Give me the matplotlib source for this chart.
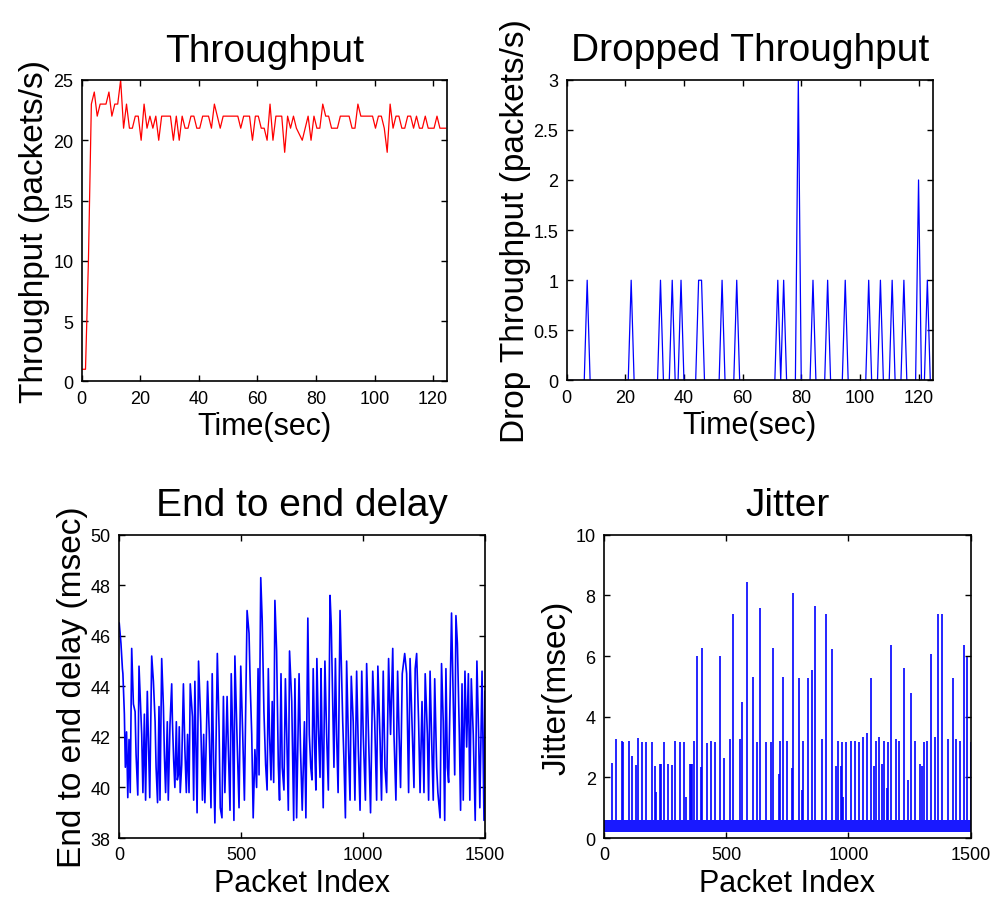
import numpy as np
import matplotlib
matplotlib.use('Agg')
import matplotlib.pyplot as plt
from matplotlib.ticker import FuncFormatter

# throughput, one sample per second (packets/s)
thr_pps = [1, 1, 10, 23, 24, 22, 23, 23, 23, 24,
           22, 23, 23, 25, 21, 23, 21, 21, 22, 22,
           20, 23, 21, 22, 21, 22, 20, 22, 22, 22,
           22, 20, 22, 20, 22, 21, 21, 22, 22, 21,
           21, 22, 22, 22, 21, 23, 22, 21, 22, 22,
           22, 22, 22, 22, 21, 22, 22, 22, 20, 22,
           22, 21, 21, 20, 23, 20, 22, 22, 22, 19,
           22, 21, 22, 21, 20.5, 20, 21, 22, 20, 22,
           21, 21, 23, 22, 22, 21, 21, 21, 22, 22,
           22, 22, 21, 21, 23, 22, 22, 22, 22, 22,
           21, 22, 22, 21, 19, 23, 21, 22, 22, 21,
           21, 22, 22, 21, 22, 21, 21, 22, 21, 21,
           21, 22, 21, 21, 21]
thr_start = 0.3

# dropped throughput: seconds where drops happened, rest is zero
drop_secs = [7, 22, 32, 36, 39, 45, 46, 53, 58, 72, 74, 79, 84, 89, 95,
             103, 107, 111, 115, 120, 123]
drop_pps = [1, 1, 1, 1, 1, 1, 1, 1, 1, 1, 1, 3, 1, 1, 1,
            1, 1, 1, 1, 2, 1]
n_secs = 125

# end to end delay, turning points (packet index, msec)
delay_idx = [1, 8, 14, 16, 22, 26, 31, 36, 41, 46, 52, 59, 66, 70, 77, 82, 87, 93, 98,
             104, 109, 116, 120, 126, 134, 141, 148, 152, 158, 164, 168, 175, 182, 186,
             191, 198, 202, 209, 216, 219, 224, 229, 235, 239, 243, 247, 251, 257, 264,
             270, 276, 281, 287, 292, 301, 306, 311, 320, 326, 335, 342, 347, 352, 363,
             370, 377, 382, 388, 393, 403, 410, 415, 422, 428, 434, 443, 448, 455, 460,
             466, 471, 475, 484, 492, 499, 507, 514, 525, 533, 538, 544, 550, 557, 564,
             570, 574, 581, 587, 594, 601, 607, 612, 617, 623, 628, 634, 639, 646, 653,
             658, 664, 669, 676, 682, 688, 694, 699, 708, 716, 721, 728, 738, 744, 751,
             760, 766, 774, 780, 786, 791, 796, 802, 807, 811, 817, 824, 828, 832, 837,
             844, 851, 858, 865, 870, 876, 881, 887, 892, 898, 906, 911, 917, 922, 928,
             933, 941, 947, 952, 960, 967, 974, 981, 988, 995, 1001, 1010, 1015, 1023,
             1031, 1040, 1048, 1056, 1061, 1070, 1076, 1083, 1090, 1097, 1105, 1113,
             1122, 1127, 1135, 1142, 1148, 1154, 1161, 1171, 1179, 1187, 1193, 1201,
             1209, 1214, 1220, 1228, 1234, 1242, 1250, 1255, 1264, 1269, 1275, 1283,
             1288, 1294, 1302, 1307, 1316, 1322, 1329, 1335, 1340, 1346, 1351, 1359,
             1363, 1370, 1376, 1381, 1387, 1395, 1400, 1406, 1411, 1418, 1425, 1432,
             1438, 1444, 1452, 1460, 1467, 1474, 1479, 1488, 1496, 1500]
delay_ms = [46.5, 45.7, 44.7, 44.5, 42.9, 40.8, 42.2, 39.6, 41.9, 39.8, 45.5, 43.3, 43.0,
            41.3, 39.7, 44.8, 43.6, 42.1, 39.8, 42.9, 39.5, 43.8, 42.1, 39.6, 45.2, 44.2,
            42.6, 40.8, 39.4, 43.2, 39.5, 45.1, 43.2, 41.3, 39.8, 42.6, 39.5, 42.5, 44.1,
            42.6, 41.1, 40.0, 42.6, 40.3, 40.5, 42.4, 39.8, 40.9, 44.1, 41.5, 39.8, 42.1,
            39.8, 44.1, 42.8, 39.5, 44.2, 39.0, 45.0, 42.6, 39.5, 42.1, 39.4, 44.2, 42.1,
            39.2, 44.5, 40.9, 38.6, 45.3, 42.4, 39.2, 38.8, 43.6, 39.8, 43.6, 41.6, 39.1,
            44.5, 42.1, 38.7, 45.2, 41.9, 39.2, 44.8, 42.1, 39.5, 47.0, 46.1, 44.0, 42.1,
            38.8, 41.5, 40.0, 44.7, 40.5, 48.3, 46.6, 43.0, 40.9, 39.9, 44.7, 42.1, 40.3,
            43.4, 40.2, 47.4, 45.4, 40.9, 39.5, 44.5, 40.8, 39.9, 44.3, 41.9, 39.1, 45.4,
            43.4, 38.7, 44.3, 38.8, 44.5, 41.5, 39.1, 42.6, 38.8, 46.7, 42.1, 40.8, 40.3,
            44.7, 41.6, 39.9, 45.1, 42.4, 40.4, 44.7, 42.1, 39.2, 45.0, 42.1, 39.9, 47.6,
            46.4, 43.4, 40.8, 45.1, 42.1, 39.8, 47.0, 45.0, 42.6, 41.1, 38.8, 45.0, 41.5,
            39.5, 44.4, 42.6, 39.5, 44.6, 41.5, 39.1, 44.6, 42.1, 39.5, 44.9, 41.9, 39.0,
            44.6, 42.6, 39.5, 44.8, 41.9, 39.5, 44.6, 40.8, 39.8, 45.1, 42.1, 45.5, 42.1,
            39.5, 44.6, 42.1, 40.0, 44.5, 45.3, 44.5, 39.8, 45.1, 42.5, 40.0, 44.7, 45.3,
            42.6, 39.8, 43.4, 39.8, 44.5, 42.1, 39.5, 44.6, 41.3, 39.5, 44.3, 40.8, 39.8,
            38.8, 44.9, 42.6, 38.7, 44.7, 40.8, 40.2, 44.7, 46.9, 43.4, 40.5, 46.8, 45.7,
            42.1, 39.1, 44.1, 39.5, 44.6, 41.6, 44.5, 39.5, 44.3, 42.1, 38.7, 45.0, 42.1,
            39.2, 44.6, 38.7, 43.8]

# jitter: spikes above the noise floor (packet index, msec)
jitter_idx = [33, 50, 74, 79, 104, 116, 132, 138, 157, 173, 198, 209, 214, 231, 235,
              244, 262, 280, 292, 310, 326, 337, 350, 356, 361, 369, 380, 397, 403,
              423, 438, 456, 474, 492, 515, 529, 556, 565, 585, 609, 626, 639, 663,
              682, 691, 716, 721, 732, 750, 768, 773, 798, 809, 814, 833, 850, 862,
              892, 910, 933, 949, 956, 969, 974, 979, 992, 1010, 1026, 1042, 1061,
              1078, 1094, 1105, 1111, 1127, 1138, 1145, 1156, 1162, 1175, 1193, 1209,
              1227, 1244, 1255, 1273, 1291, 1303, 1310, 1322, 1339, 1355, 1366, 1384,
              1408, 1426, 1440, 1456, 1474, 1486, 1500]
jitter_ms = [2.47, 3.26, 3.2, 3.15, 3.2, 2.72, 2.41, 3.31, 3.16, 3.16, 3.16, 2.39, 1.52,
             2.43, 2.45, 3.16, 2.43, 2.40, 3.2, 3.16, 3.16, 1.35, 2.43, 2.43, 2.45, 3.19,
             6.01, 2.34, 6.28, 3.12, 3.19, 3.16, 6.01, 2.65, 3.26, 7.37, 3.26, 4.5, 8.45,
             5.32, 3.16, 7.58, 3.16, 3.16, 6.28, 2.12, 3.19, 5.32, 3.19, 2.32, 8.08, 5.26,
             1.59, 3.19, 5.26, 5.54, 7.64, 3.26, 7.37, 6.24, 2.39, 3.19, 2.39, 3.16, 1.34,
             3.16, 3.19, 3.19, 3.16, 3.34, 3.45, 5.26, 2.39, 3.19, 3.34, 2.43, 3.19, 1.64,
             3.16, 6.35, 3.26, 3.19, 5.59, 1.9, 4.77, 3.19, 2.43, 2.39, 3.16, 3.19, 6.06,
             3.34, 7.37, 7.37, 3.26, 5.26, 3.26, 3.19, 6.35, 5.98, 3.16]
jitter_floor = 0.2
jitter_ceil = 0.6
n_packets = 1500

plt.rcParams['font.family'] = ['Liberation Sans', 'DejaVu Sans']

TITLE = 28
XLABEL = 22
YLABEL = 24
TICK = 13

fig = plt.figure(figsize=(9.95, 9.12), dpi=100)
ax1 = fig.add_axes([0.0821, 0.5808, 0.3668, 0.3304])
ax2 = fig.add_axes([0.5695, 0.5817, 0.3684, 0.3298])
ax3 = fig.add_axes([0.1196, 0.0800, 0.3678, 0.3326])
ax4 = fig.add_axes([0.6070, 0.0800, 0.3685, 0.3326])

fmt = FuncFormatter(lambda v, p: '%g' % v)


def style(ax, title, xlabel, ylabel):
    ax.set_title(title, fontsize=TITLE, pad=14)
    ax.set_xlabel(xlabel, fontsize=XLABEL, labelpad=3)
    ax.set_ylabel(ylabel, fontsize=YLABEL, labelpad=2)
    ax.tick_params(direction='in', top=True, right=True, length=4, width=1,
                   labelsize=TICK, pad=6)
    ax.xaxis.set_major_formatter(fmt)
    ax.yaxis.set_major_formatter(fmt)
    for s in ax.spines.values():
        s.set_linewidth(1.2)


# Throughput
thr_t = np.arange(len(thr_pps)) + thr_start
ax1.plot(thr_t, thr_pps, color='red', lw=0.9)
ax1.set_xlim(0, 124.6)
ax1.set_ylim(0, 25)
ax1.set_xticks(np.arange(0, 121, 20))
ax1.set_yticks(np.arange(0, 26, 5))
style(ax1, 'Throughput', 'Time(sec)', 'Throughput (packets/s)')

# Dropped throughput
drop_t = np.arange(1, n_secs + 1)
drop = np.zeros(n_secs)
drop[np.array(drop_secs) - 1] = drop_pps
ax2.plot(drop_t, drop, color='blue', lw=0.9)
ax2.set_xlim(0, 125)
ax2.set_ylim(0, 3)
ax2.set_xticks(np.arange(0, 121, 20))
ax2.set_yticks(np.arange(0, 3.01, 0.5))
style(ax2, 'Dropped Throughput', 'Time(sec)', 'Drop Throughput (packets/s)')

# End to end delay
ax3.plot(delay_idx, delay_ms, color='blue', lw=1.2)
ax3.set_xlim(0, n_packets)
ax3.set_ylim(38, 50)
ax3.set_xticks([0, 500, 1000, 1500])
ax3.set_yticks(np.arange(38, 51, 2))
style(ax3, 'End to end delay', 'Packet Index', 'End to end delay (msec)')

# Jitter: dense noise floor + spikes
ax4.fill_between([0, n_packets], jitter_floor, jitter_ceil, color='blue',
                 alpha=0.9, lw=0)
ax4.vlines(jitter_idx, jitter_ceil, jitter_ms, color='blue', lw=1.2)
ax4.set_xlim(0, n_packets)
ax4.set_ylim(0, 10)
ax4.set_xticks([0, 500, 1000, 1500])
ax4.set_yticks(np.arange(0, 11, 2))
style(ax4, 'Jitter', 'Packet Index', 'Jitter(msec)')

fig.savefig('out.png', dpi=100)
